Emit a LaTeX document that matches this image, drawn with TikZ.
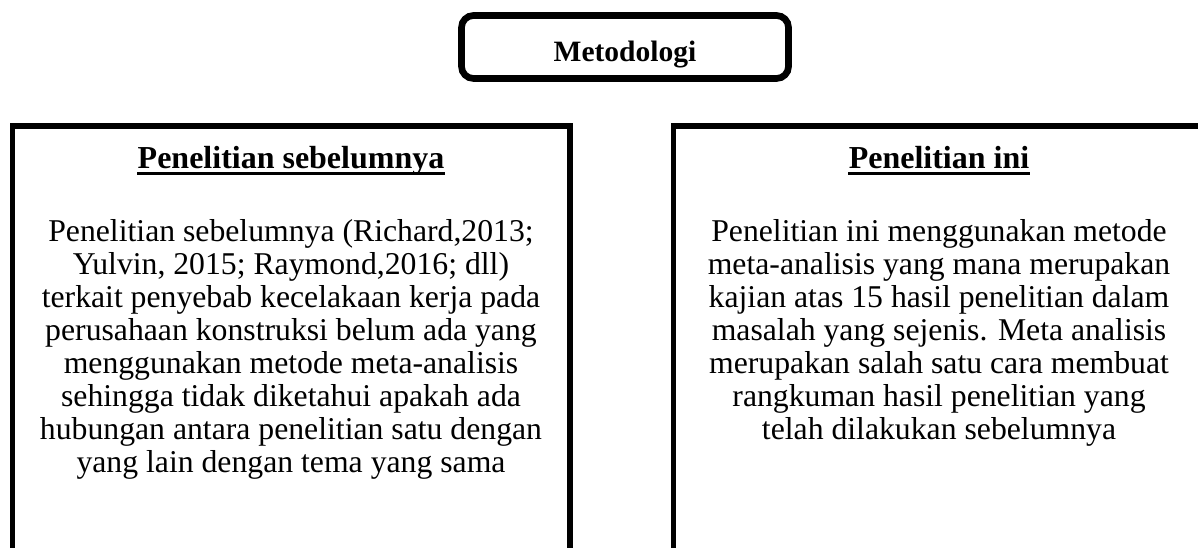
\documentclass[tikz,border=0pt]{standalone}
\usepackage{fontspec}
\setmainfont{Liberation Serif}
\usetikzlibrary{positioning}
\tikzset{
	methodnode/.style={rectangle, draw, line width=3.8pt, rounded corners=0.24cm, minimum width=6.54cm, minimum height=1.26cm},
	headnode/.style={inner sep=0pt, font=\fontsize{18.2pt}{20pt}\selectfont\bfseries},
	bodynode/.style={inner sep=0pt, align=center, font=\fontsize{18.05pt}{18.8pt}\selectfont},
	panel/.style={line width=3.1pt},
	headline/.style={line width=1.9pt}
}
\begin{document}
\begin{tikzpicture}
		\useasboundingbox (0,0) rectangle (23.96,10.94);
		\clip (0,0) rectangle (23.96,10.94);
		
		\node[methodnode] at (12.5,10.0) (metbox) {};
		\node[headnode, anchor=base, font=\fontsize{16.8pt}{18pt}\selectfont\bfseries] at (12.5,9.7) (met) {Metodologi};
		
		\draw[panel] (0.25,-0.5) |- (11.4,8.42) -- (11.4,-0.5); 
		\draw[panel] (13.47,-0.5) |- (24.6,8.42) -- (24.6,-0.5); 
		
		\node[headnode, anchor=base] at (5.82,7.56) (lefthead) {Penelitian sebelumnya};
		\node[headnode, anchor=base] at (18.78,7.56) (righthead) {Penelitian ini};
		\draw[headline] ([yshift=-0.087cm]lefthead.base west) -- ([yshift=-0.087cm]lefthead.base east);
		\draw[headline] ([yshift=-0.087cm]righthead.base west) -- ([yshift=-0.087cm]righthead.base east);
		
		\node[bodynode, below=1cm of lefthead.base] (leftbody) {Penelitian sebelumnya (Richard,2013;\\Yulvin, 2015; Raymond,2016; dll)\\terkait penyebab kecelakaan kerja pada\\perusahaan konstruksi belum ada yang\\menggunakan metode meta-analisis\\sehingga tidak diketahui apakah ada\\hubungan antara penelitian satu dengan\\yang lain dengan tema yang sama};
		\node[bodynode, below=1cm of righthead.base] (rightbody) {Penelitian ini menggunakan metode\\meta-analisis yang mana merupakan\\kajian atas 15 hasil penelitian dalam\\masalah yang sejenis. Meta analisis\\merupakan salah satu cara membuat\\rangkuman hasil penelitian yang\\telah dilakukan sebelumnya};
	\end{tikzpicture}
\end{document}
